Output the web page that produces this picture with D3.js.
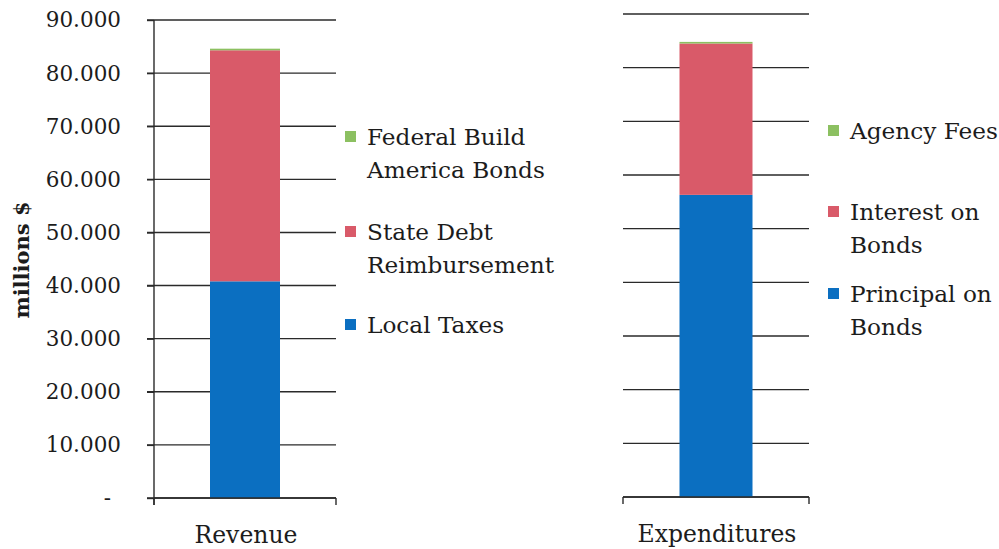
<!DOCTYPE html>
<html>
<head>
<meta charset="utf-8">
<script src="https://cdn.jsdelivr.net/npm/d3@7"></script>
<style>
  body { margin: 0; background: #fff; }
  svg text { font-family: "DejaVu Serif", serif; fill: #1c1c1c; }
</style>
</head>
<body>
<svg id="chart" width="999" height="549"></svg>
<script>
// chart data
const tickValues = [0, 10, 20, 30, 40, 50, 60, 70, 80, 90]
const tickLabels = ["-", "10.000", "20.000", "30.000", "40.000", "50.000", "60.000", "70.000", "80.000", "90.000"]

const revenueSeries = ["Local Taxes", "State Debt Reimbursement", "Federal Build America Bonds"]
const revenueValues = [40.8, 43.5, 0.3]
const revenueLegend = [["Federal Build", "America Bonds"], ["State Debt", "Reimbursement"], ["Local Taxes"]]

const expenditureSeries = ["Principal on Bonds", "Interest on Bonds", "Agency Fees"]
const expenditureValues = [56.3, 28.2, 0.3]
const expenditureLegend = [["Agency Fees"], ["Interest on", "Bonds"], ["Principal on", "Bonds"]]

const colors = ["#0b6fc1", "#d95a69", "#8cc061"]

const svg = d3.select("#chart")

function drawPanel (opts) {
  const y = d3.scaleLinear().domain([0, 90]).range([opts.y0, opts.y1])
  const x = d3.scaleBand().domain([opts.category]).range([opts.x0, opts.x1])
    .paddingInner(0).paddingOuter(opts.pad)

  const g = svg.append("g")

  // gridlines
  g.selectAll("line.grid")
    .data(tickValues)
    .enter().append("line")
    .attr("class", "grid")
    .attr("x1", opts.gridLeft)
    .attr("x2", opts.x1)
    .attr("y1", d => y(d))
    .attr("y2", d => y(d))
    .style("stroke", "#2a2a2a")
    .style("stroke-width", 1.4)

  // stacked bar
  let base = 0
  const stack = opts.values.map((v, i) => {
    const seg = { y0: base, y1: base + v, color: colors[i] }
    base += v
    return seg
  })
  g.selectAll("rect.seg")
    .data(stack)
    .enter().append("rect")
    .attr("class", "seg")
    .attr("x", x(opts.category))
    .attr("width", x.bandwidth())
    .attr("y", d => y(d.y1))
    .attr("height", d => y(d.y0) - y(d.y1))
    .style("fill", d => d.color)

  // x axis
  const xAxis = g.append("g")
  xAxis.append("line")
    .attr("x1", opts.x0).attr("x2", opts.x1)
    .attr("y1", y(0)).attr("y2", y(0))
    .style("stroke", "#2a2a2a").style("stroke-width", 1.4)
  xAxis.selectAll("line.tick")
    .data([opts.x0, opts.x1])
    .enter().append("line")
    .attr("class", "tick")
    .attr("x1", d => d).attr("x2", d => d)
    .attr("y1", y(0)).attr("y2", y(0) + 7)
    .style("stroke", "#2a2a2a").style("stroke-width", 1.4)
  xAxis.append("text")
    .attr("x", x(opts.category) + x.bandwidth() / 2 + 1)
    .attr("y", y(0) + 45)
    .attr("text-anchor", "middle")
    .style("font-size", "23.5px")
    .text(opts.category)

  // legend
  const lg = g.append("g")
  opts.legend.forEach((lines, i) => {
    const top = opts.legendY[i]
    lg.append("rect")
      .attr("x", opts.legendX)
      .attr("y", top - 6)
      .attr("width", 11)
      .attr("height", 11)
      .style("fill", colors[opts.legend.length - 1 - i])
    lines.forEach((t, j) => {
      lg.append("text")
        .attr("x", opts.legendX + 22)
        .attr("y", top + j * 33)
        .attr("dy", "0.35em")
        .style("font-size", "23.2px")
        .text(t)
    })
  })
  return y
}

const yLeft = drawPanel({
  category: "Revenue", values: revenueValues, legend: revenueLegend,
  x0: 154, x1: 336, gridLeft: 147, pad: 0.8, y0: 498, y1: 20,
  legendX: 345, legendY: [137, 232, 325]
})

drawPanel({
  category: "Expenditures", values: expenditureValues, legend: expenditureLegend,
  x0: 623, x1: 809, gridLeft: 623, pad: 0.774, y0: 497, y1: 14,
  legendX: 828, legendY: [131, 212, 294]
})

// left y axis
const yAxis = d3.axisLeft(yLeft)
  .tickValues(tickValues)
  .tickFormat((d, i) => tickLabels[i])
  .tickSize(7)
  .tickPadding(26)
const ya = svg.append("g").attr("transform", "translate(154,0)").call(yAxis)
ya.select(".domain").remove()
ya.append("line")
  .attr("x1", 0).attr("x2", 0)
  .attr("y1", yLeft(90)).attr("y2", yLeft(0) + 7)
  .style("stroke", "#2a2a2a").style("stroke-width", 1.4)
ya.selectAll(".tick line").style("stroke", "#2a2a2a").style("stroke-width", 1.4)
ya.selectAll(".tick text")
  .style("font-family", "DejaVu Serif, serif")
  .style("font-size", "21.5px")
  .style("fill", "#1c1c1c")
  .attr("dx", d => d === 0 ? -10 : 0)

svg.append("text")
  .attr("transform", "translate(22,260) rotate(-90)")
  .attr("text-anchor", "middle")
  .attr("dy", "0.35em")
  .style("font-size", "21px")
  .style("font-weight", "bold")
  .text("millions $")
</script>
</body>
</html>
